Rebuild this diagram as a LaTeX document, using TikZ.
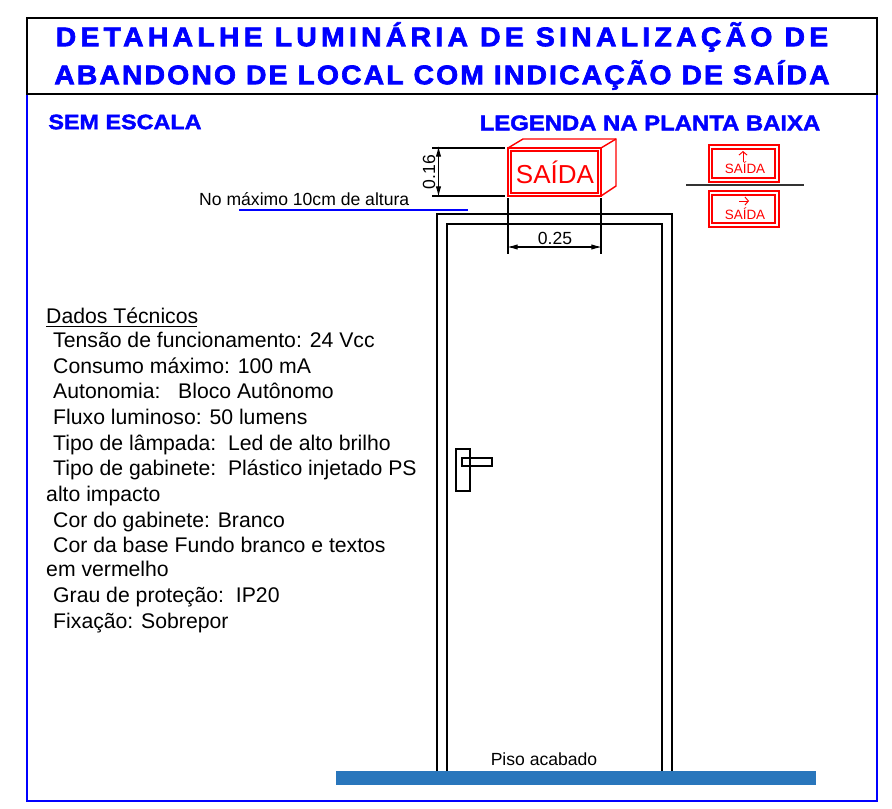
\documentclass[tikz,border=0pt]{standalone}
\usepackage{fontspec}
\setmainfont{Liberation Sans}
\newfontfamily\titlefont[FakeBold=2.5,FakeStretch=1.05,LetterSpace=8]{Liberation Sans Bold}
\newfontfamily\titlefontb[FakeBold=2.5,FakeStretch=1.05,LetterSpace=16]{Liberation Sans Bold}
\newfontfamily\headfont[FakeBold=2,FakeStretch=1.12]{Liberation Sans Bold}
\usetikzlibrary{arrows.meta}
\definecolor{piso}{RGB}{41,118,188}
\definecolor{azul}{RGB}{0,0,255}
\tikzset{
  titletext/.style={text=azul, font=\titlefont\fontsize{23}{23}\selectfont, inner sep=0pt},
  headtext/.style={text=azul, font=\headfont\fontsize{17.8}{17.8}\selectfont, inner sep=0pt},
  datatext/.style={anchor=base west, font=\fontsize{18.1}{18.1}\selectfont, inner sep=0pt},
  smalltext/.style={font=\fontsize{15}{15}\selectfont, inner sep=0pt},
  doorline/.style={black, line width=1.3pt},
  redline/.style={red, line width=1.2pt},
  legline/.style={red, line width=1.1pt},
  dimline/.style={black, line width=1.1pt},
  dimarrow/.style={{Latex[length=9pt,width=4.5pt]}-{Latex[length=9pt,width=4.5pt]}, line width=0.9pt}
}
\begin{document}
\begin{tikzpicture}[x=0.03cm, y=-0.03cm]
\useasboundingbox (0,0) rectangle (892,809);
% moldura
\draw[azul, line width=1.3pt] (27,94) -- (27,801) -- (877,801) -- (877,94);
\draw[black, line width=1.4pt] (27,94) -- (27,18) -- (877,18) -- (877,94) -- cycle;
% titulo
\node[titletext, font=\titlefontb\fontsize{23}{23}\selectfont] (title1) at (442,37) {DETAHALHE LUMINÁRIA DE SINALIZAÇÃO DE};
\node[titletext] (title2) at (442,75) {ABANDONO DE LOCAL COM INDICAÇÃO DE SAÍDA};
\node[headtext] (escala) at (125,122) {SEM ESCALA};
\node[headtext, font=\headfont\fontsize{18.2}{18.2}\selectfont] (legenda) at (650,123) {LEGENDA NA PLANTA BAIXA};
% porta
\draw[doorline] (437,772) -- (437,214) -- (672,214) -- (672,772);
\draw[doorline] (447,772) -- (447,224) -- (662,224) -- (662,772);
\draw[black, line width=0.9pt] (456,449) rectangle (470,491);
\draw[black, line width=0.9pt] (462,458) rectangle (492,466);
% piso
\fill[piso] (336,771) rectangle (816,785);
\node[smalltext] (pisotxt) at (544,759) {Piso acabado};
% luminaria
\draw[redline] (508,148) -- (523,139) -- (616,139) -- (616,186) -- (601,196);
\draw[redline] (601,148) -- (616,139);
\draw[redline] (508,148) rectangle (601,196);
\draw[redline] (511,151) rectangle (598,193);
\node[text=red, font=\fontsize{22.2}{22.2}\selectfont, inner sep=0pt] (saida) at (555,172) {SAÍDA};
% cotas
\draw[dimline] (432,148) -- (505,148);
\draw[dimline] (432,196) -- (505,196);
\coordinate (cotaA) at (438.5,146);
\coordinate (cotaB) at (438.5,197);
\draw[dimarrow] (cotaA) -- (cotaB);
\node[smalltext, rotate=90] (alt) at (429,172) {0.16};
\draw[dimline] (508,198) -- (508,254);
\draw[dimline] (601,198) -- (601,254);
\coordinate (cotaC) at (507,247);
\coordinate (cotaD) at (602,247);
\draw[dimarrow] (cotaC) -- (cotaD);
\node[smalltext] (larg) at (555,238) {0.25};
\node[smalltext, anchor=base west] (maximo) at (199,205) {No máximo 10cm de altura};
\draw[azul, line width=1pt] (239,210) -- (468,210);
% legenda
\draw[legline] (709,145) rectangle (779,182);
\draw[legline] (712,149) rectangle (775,178);
\draw[legline] (709,191) rectangle (779,227);
\draw[legline] (712,195) rectangle (775,223);
\node[text=red, font=\fontsize{11.5}{11.5}\selectfont, inner sep=0pt] (saidaA) at (745,168) {SAÍDA};
\node[text=red, font=\fontsize{11.5}{11.5}\selectfont, inner sep=0pt] (saidaB) at (745,214) {SAÍDA};
\draw[red, line width=0.8pt, -{Straight Barb[length=3pt,width=7pt]}] (743,162) -- (743,151);
\draw[red, line width=0.8pt, -{Straight Barb[length=3pt,width=7pt]}] (739,201) -- (749,201);
\draw[black!80, line width=1.2pt] (686,185) -- (804,185);
% dados
\node[datatext] (dados) at (46,323) {Dados Técnicos};
\draw[black, line width=0.7pt] (46,326) -- (197,326);
\foreach \txt [count=\i from 1] in {Tensão de funcionamento: 24 Vcc, Consumo máximo: 100 mA, Autonomia:\ \ \ Bloco Autônomo, Fluxo luminoso: 50 lumens, Tipo de lâmpada:\ \ Led de alto brilho, Tipo de gabinete:\ \ Plástico injetado PS}
  \node[datatext] (linha\i) at (53,{322+25.6*\i}) {\txt};
\node[datatext] (linha7) at (46,501) {alto impacto};
\node[datatext] (linha8) at (53,527) {Cor do gabinete: Branco};
\node[datatext] (linha9) at (53,552) {Cor da base Fundo branco e textos};
\node[datatext] (linha10) at (46,576) {em vermelho};
\node[datatext] (linha11) at (53,602) {Grau de proteção:\ \ IP20};
\node[datatext] (linha12) at (53,628) {Fixação: Sobrepor};
\end{tikzpicture}
\end{document}
